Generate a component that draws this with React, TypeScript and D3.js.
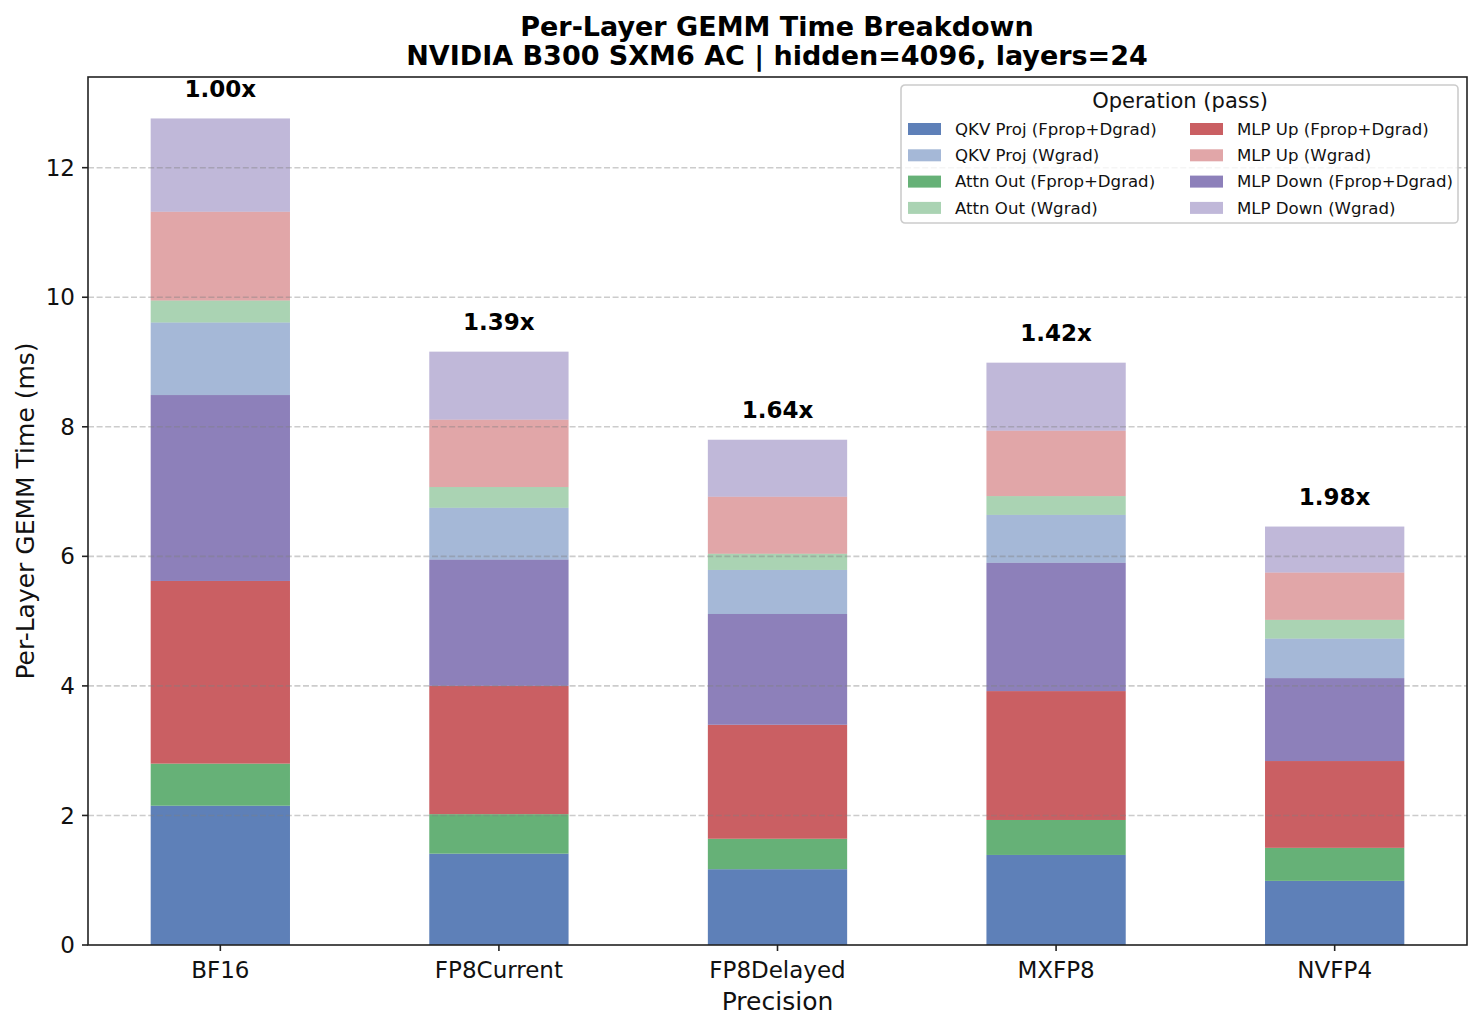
import React from "react";
import * as d3 from "d3";

// Precision configurations (x categories)
const precisions = ["BF16", "FP8Current", "FP8Delayed", "MXFP8", "NVFP4"];

// Per-layer GEMM time (ms), stacked bottom to top
const qkvFprop = [2.15, 1.41, 1.17, 1.39, 0.99];
const attnFprop = [0.65, 0.61, 0.47, 0.54, 0.51];
const mlpUpFprop = [2.82, 1.98, 1.76, 1.99, 1.34];
const mlpDownFprop = [2.87, 1.95, 1.71, 1.98, 1.28];
const qkvWgrad = [1.12, 0.8, 0.68, 0.74, 0.61];
const attnWgrad = [0.34, 0.32, 0.25, 0.29, 0.29];
const mlpUpWgrad = [1.37, 1.04, 0.88, 1.01, 0.73];
const mlpDownWgrad = [1.44, 1.05, 0.88, 1.05, 0.71];

const yTicks = [0, 2, 4, 6, 8, 10, 12];

interface Series {
  name: string;
  values: number[];
  base: string;
  alpha: number;
}

const series: Series[] = [
  { name: "QKV Proj (Fprop+Dgrad)", values: qkvFprop, base: "#4c72b0", alpha: 0.9 },
  { name: "Attn Out (Fprop+Dgrad)", values: attnFprop, base: "#55a868", alpha: 0.9 },
  { name: "MLP Up (Fprop+Dgrad)", values: mlpUpFprop, base: "#c44e52", alpha: 0.9 },
  { name: "MLP Down (Fprop+Dgrad)", values: mlpDownFprop, base: "#8172b3", alpha: 0.9 },
  { name: "QKV Proj (Wgrad)", values: qkvWgrad, base: "#4c72b0", alpha: 0.5 },
  { name: "Attn Out (Wgrad)", values: attnWgrad, base: "#55a868", alpha: 0.5 },
  { name: "MLP Up (Wgrad)", values: mlpUpWgrad, base: "#c44e52", alpha: 0.5 },
  { name: "MLP Down (Wgrad)", values: mlpDownWgrad, base: "#8172b3", alpha: 0.5 },
];

// legend order (column-major, two columns)
const legendOrder = [
  "QKV Proj (Fprop+Dgrad)",
  "QKV Proj (Wgrad)",
  "Attn Out (Fprop+Dgrad)",
  "Attn Out (Wgrad)",
  "MLP Up (Fprop+Dgrad)",
  "MLP Up (Wgrad)",
  "MLP Down (Fprop+Dgrad)",
  "MLP Down (Wgrad)",
];

const W = 1482;
const H = 1030;
const margin = { top: 77, right: 15, bottom: 85, left: 88 };
const FONT = "DejaVu Sans, sans-serif";

export default function App() {
  const innerW = W - margin.left - margin.right;
  const innerH = H - margin.top - margin.bottom;

  const x = d3.scaleLinear().domain([-0.475, 4.475]).range([0, innerW]);
  const y = d3.scaleLinear().domain([0, 13.4]).range([innerH, 0]);
  const barW = x(0.5) - x(0);

  const rows = precisions.map((p, i) => {
    const r: Record<string, number> = {};
    series.forEach((s) => (r[s.name] = s.values[i]));
    return r;
  });
  const stacked = d3.stack<Record<string, number>>().keys(series.map((s) => s.name))(rows);
  const totals = precisions.map((_, i) => d3.sum(series, (s) => s.values[i]));
  const baseline = totals[0];

  const legendX = 901 - margin.left;
  const legendY = 85 - margin.top;

  return (
    <svg width={W} height={H} style={{ display: "block", margin: -8, fontFamily: FONT }}>
      <rect width={W} height={H} fill="#fff" />
      <text x={777} y={35.5} textAnchor="middle" fontSize={27} fontWeight="bold" fill="#000">
        Per-Layer GEMM Time Breakdown
      </text>
      <text x={777} y={64.5} textAnchor="middle" fontSize={27} fontWeight="bold" fill="#000">
        NVIDIA B300 SXM6 AC | hidden=4096, layers=24
      </text>

      <g transform={`translate(${margin.left},${margin.top})`}>
        {/* Stacked bars */}
        {stacked.map((layer, li) => (
          <g key={layer.key} fill={series[li].base} fillOpacity={series[li].alpha}>
            {layer.map((d, i) => (
              <rect
                key={i}
                x={x(i) - barW / 2}
                y={y(d[1])}
                width={barW}
                height={y(d[0]) - y(d[1])}
              />
            ))}
          </g>
        ))}

        {/* Grid above bars */}
        {yTicks.slice(1).map((t) => (
          <line
            key={t}
            x1={0}
            x2={innerW}
            y1={y(t)}
            y2={y(t)}
            stroke="#808080"
            strokeOpacity={0.4}
            strokeWidth={1.6}
            strokeDasharray="6,2.6"
          />
        ))}

        {/* Speedup labels */}
        {totals.map((t, i) => (
          <text
            key={i}
            x={x(i)}
            y={y(t) - 21.5}
            textAnchor="middle"
            fontSize={23}
            fontWeight="bold"
            fill="#000"
          >
            {`${(baseline / t).toFixed(2)}x`}
          </text>
        ))}

        {/* Y axis ticks */}
        {yTicks.map((t) => (
          <g key={t} transform={`translate(0,${y(t)})`}>
            <line x1={-6} x2={0} stroke="#222" strokeWidth={1.6} />
            <text x={-13} dy="0.35em" textAnchor="end" fontSize={23} fill="#111">
              {t}
            </text>
          </g>
        ))}

        {/* X axis ticks */}
        {precisions.map((p, i) => (
          <g key={p} transform={`translate(${x(i)},${innerH})`}>
            <line y1={0} y2={6} stroke="#222" strokeWidth={1.6} />
            <text y={33} textAnchor="middle" fontSize={23} fill="#111">
              {p}
            </text>
          </g>
        ))}

        {/* Frame */}
        <rect x={0} y={0} width={innerW} height={innerH} fill="none" stroke="#222" strokeWidth={1.6} />

        {/* Axis labels */}
        <text x={innerW / 2} y={innerH + 65} textAnchor="middle" fontSize={25} fill="#111">
          Precision
        </text>
        <text
          transform={`translate(${-54},${innerH / 2}) rotate(-90)`}
          textAnchor="middle"
          fontSize={25}
          fill="#111"
        >
          Per-Layer GEMM Time (ms)
        </text>

        {/* Legend */}
        <g transform={`translate(${legendX},${legendY})`}>
          <rect
            x={0}
            y={0}
            width={557}
            height={138}
            rx={4}
            fill="#fff"
            fillOpacity={0.8}
            stroke="#cccccc"
            strokeWidth={1.6}
          />
          <text x={279} y={23} textAnchor="middle" fontSize={21} fill="#111">
            Operation (pass)
          </text>
          {legendOrder.map((name, k) => {
            const s = series.find((d) => d.name === name)!;
            const col = Math.floor(k / 4);
            const row = k % 4;
            const lx = 7 + col * 282;
            const ly = 44 + row * 26.3;
            return (
              <g key={name} transform={`translate(${lx},${ly})`}>
                <rect x={0} y={-6} width={33} height={12} fill={s.base} fillOpacity={s.alpha} />
                <text x={47} dy="0.35em" fontSize={16.6} fill="#111">
                  {name}
                </text>
              </g>
            );
          })}
        </g>
      </g>
    </svg>
  );
}
